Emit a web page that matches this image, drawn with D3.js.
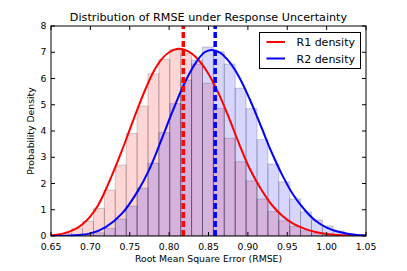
<!DOCTYPE html>
<html>
<head>
<meta charset="utf-8">
<script src="https://cdn.jsdelivr.net/npm/d3@7"></script>
<style>
  html, body { margin: 0; padding: 0; background: #fff; }
  svg { display: block; }
  text { font-family: "DejaVu Sans", sans-serif; fill: #000; }
</style>
</head>
<body>
<svg id="chart" width="407" height="271"></svg>
<script>
// ---------- data ----------
const chartTitle = "Distribution of RMSE under Response Uncertainty";
const xLabel = "Root Mean Square Error (RMSE)";
const yLabel = "Probability Density";
const seriesNames = ["R1 density", "R2 density"];
const seriesColors = ["#ff0000", "#0000ff"];

const binEdges = [0.6486, 0.6624, 0.6763, 0.6901, 0.7040, 0.7178, 0.7316, 0.7455, 0.7593, 0.7732,
                  0.7870, 0.8008, 0.8147, 0.8285, 0.8424, 0.8562, 0.8700, 0.8839, 0.8977, 0.9116,
                  0.9254, 0.9392, 0.9531, 0.9669, 0.9808, 0.9946, 1.0084, 1.0223, 1.0361, 1.0500];
const r1Hist = [0.03, 0.10, 0.28, 0.56, 1.05, 1.75, 2.70, 3.91, 4.95, 6.18,
                6.73, 7.10, 6.95, 6.55, 5.82, 4.86, 3.72, 2.83, 2.10, 1.41,
                0.93, 0.58, 0.36, 0.20, 0.10, 0.05, 0.02, 0.01, 0.00];
const r2Hist = [0.00, 0.01, 0.02, 0.05, 0.12, 0.29, 0.65, 1.14, 1.82, 2.77,
                3.94, 5.04, 5.94, 6.70, 7.20, 7.02, 6.55, 5.63, 4.85, 3.67,
                2.74, 2.06, 1.41, 0.92, 0.61, 0.38, 0.19, 0.08, 0.03];

const r1CurveX = [0.650, 0.665, 0.680, 0.690, 0.700, 0.710, 0.720, 0.730, 0.740, 0.750,
                  0.760, 0.770, 0.780, 0.790, 0.800, 0.8125, 0.825, 0.835, 0.8485, 0.8625,
                  0.876, 0.889, 0.9025, 0.9164, 0.930, 0.944, 0.958, 0.9725, 0.986, 1.000,
                  1.020, 1.050];
const r1CurveY = [0.03, 0.09, 0.25, 0.45, 0.75, 1.18, 1.80, 2.50, 3.25, 4.05,
                  4.85, 5.60, 6.25, 6.72, 7.00, 7.13, 7.02, 6.78, 6.25, 5.45,
                  4.50, 3.50, 2.55, 1.80, 1.20, 0.76, 0.46, 0.27, 0.15, 0.08,
                  0.03, 0.01];
const r2CurveX = [0.650, 0.680, 0.700, 0.720, 0.740, 0.760, 0.775, 0.790, 0.805, 0.820,
                  0.835, 0.845, 0.854, 0.865, 0.876, 0.889, 0.9025, 0.9164, 0.930, 0.944,
                  0.958, 0.9725, 0.986, 1.000, 1.015, 1.030, 1.050];
const r2CurveY = [0.00, 0.03, 0.10, 0.35, 0.85, 1.70, 2.55, 3.65, 4.80, 5.85,
                  6.65, 7.00, 7.09, 6.98, 6.65, 6.05, 5.20, 4.20, 3.20, 2.30,
                  1.55, 0.98, 0.58, 0.32, 0.16, 0.07, 0.02];

const meanLines = [0.818, 0.8585];

const xTicks = [0.65, 0.70, 0.75, 0.80, 0.85, 0.90, 0.95, 1.00, 1.05];
const yTicks = [0, 1, 2, 3, 4, 5, 6, 7, 8];

// ---------- layout ----------
const svg = d3.select("#chart");
const L = 51, R = 366, T = 26, B = 236;
const x = d3.scaleLinear().domain([0.65, 1.05]).range([L, R]);
const y = d3.scaleLinear().domain([0, 8]).range([B, T]);

svg.append("defs").append("clipPath").attr("id", "plotclip")
  .append("rect").attr("x", L).attr("y", T).attr("width", R - L).attr("height", B - T);

const plot = svg.append("g").attr("clip-path", "url(#plotclip)");

function drawHist(vals, color) {
  const bins = vals.map((v, i) => ({x0: binEdges[i], x1: binEdges[i + 1], v}));
  plot.append("g").selectAll("rect").data(bins).join("rect")
    .attr("x", d => x(d.x0))
    .attr("y", d => y(d.v))
    .attr("width", d => x(d.x1) - x(d.x0))
    .attr("height", d => y(0) - y(d.v))
    .attr("fill", color)
    .attr("fill-opacity", 0.16)
    .attr("stroke", "#000")
    .attr("stroke-opacity", 0.18)
    .attr("stroke-width", 1);
}
drawHist(r1Hist, seriesColors[0]);
drawHist(r2Hist, seriesColors[1]);

const line = d3.line().x(d => x(d[0])).y(d => y(d[1])).curve(d3.curveCatmullRom);
[[r1CurveX, r1CurveY], [r2CurveX, r2CurveY]].forEach((c, i) => {
  plot.append("path")
    .attr("d", line(c[0].map((v, j) => [v, c[1][j]])))
    .attr("fill", "none")
    .attr("stroke", seriesColors[i])
    .attr("stroke-width", 2);
});

meanLines.forEach((m, i) => {
  plot.append("line")
    .attr("x1", x(m)).attr("x2", x(m))
    .attr("y1", y(0)).attr("y2", y(8))
    .attr("stroke", seriesColors[i])
    .attr("stroke-width", 3.5)
    .attr("stroke-dasharray", "6,3");
});

// ---------- axes (ticks inside, on all four sides) ----------
const tl = 4;
const axG = svg.append("g");
xTicks.forEach(t => {
  axG.append("line").attr("x1", x(t)).attr("x2", x(t)).attr("y1", B).attr("y2", B - tl)
    .attr("stroke", "#000").attr("stroke-width", 1);
  axG.append("line").attr("x1", x(t)).attr("x2", x(t)).attr("y1", T).attr("y2", T + tl)
    .attr("stroke", "#000").attr("stroke-width", 1);
  axG.append("text").attr("x", x(t)).attr("y", 249.5)
    .attr("text-anchor", "middle").style("font-size", "9.3px")
    .text(d3.format(".2f")(t));
});
yTicks.forEach(t => {
  axG.append("line").attr("x1", L).attr("x2", L + tl).attr("y1", y(t)).attr("y2", y(t))
    .attr("stroke", "#000").attr("stroke-width", 1);
  axG.append("line").attr("x1", R).attr("x2", R - tl).attr("y1", y(t)).attr("y2", y(t))
    .attr("stroke", "#000").attr("stroke-width", 1);
  axG.append("text").attr("x", 46.5).attr("y", y(t) + 3.0)
    .attr("text-anchor", "end").style("font-size", "9.3px")
    .text(d3.format("d")(t));
});
axG.append("rect").attr("x", L).attr("y", T).attr("width", R - L).attr("height", B - T)
  .attr("fill", "none").attr("stroke", "#000").attr("stroke-width", 1);

// labels
svg.append("text").attr("x", (L + R) / 2).attr("y", 21)
  .attr("text-anchor", "middle").style("font-size", "11.2px").text(chartTitle);
svg.append("text").attr("x", (L + R) / 2).attr("y", 262)
  .attr("text-anchor", "middle").style("font-size", "9.3px").text(xLabel);
svg.append("text").attr("transform", `translate(33.5,${(T + B) / 2}) rotate(-90)`)
  .attr("text-anchor", "middle").style("font-size", "9.3px").text(yLabel);

// legend
const lg = svg.append("g");
lg.append("rect").attr("x", 259.5).attr("y", 32.5).attr("width", 101).attr("height", 36)
  .attr("fill", "#fff").attr("stroke", "#000").attr("stroke-width", 1);
seriesNames.forEach((n, i) => {
  const yy = 42 + i * 16.5;
  lg.append("line").attr("x1", 266.5).attr("x2", 285).attr("y1", yy).attr("y2", yy)
    .attr("stroke", seriesColors[i]).attr("stroke-width", 2);
  lg.append("text").attr("x", 296.5).attr("y", yy + 4)
    .style("font-size", "11px").text(n);
});
</script>
</body>
</html>
